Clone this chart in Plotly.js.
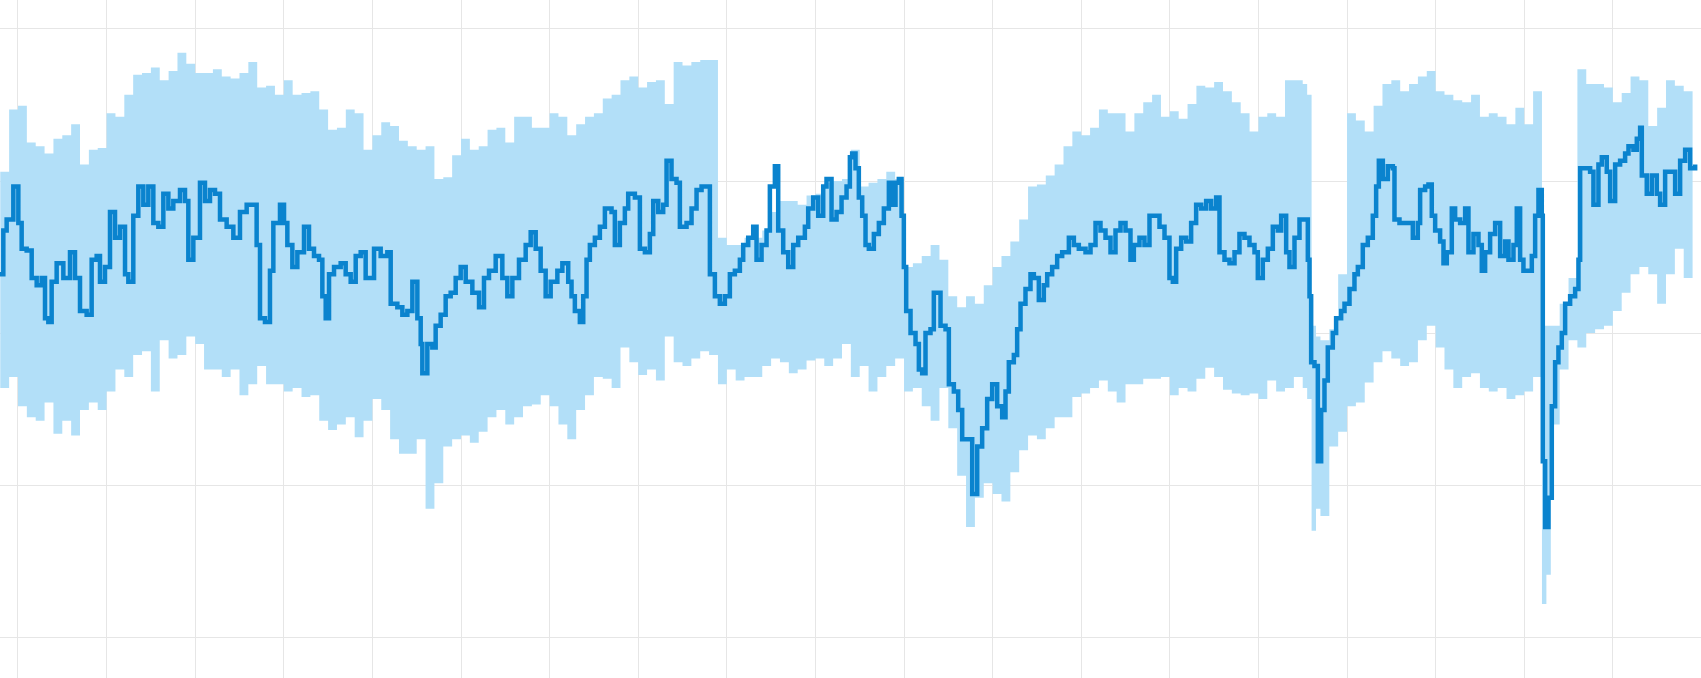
<!DOCTYPE html>
<html>
<head>
<meta charset="utf-8">
<script src="https://cdn.plot.ly/plotly-3.0.1.min.js"></script>
<style>
  html, body { margin: 0; padding: 0; background: #ffffff; }
  #chart { width: 1701px; height: 678px; }
</style>
</head>
<body>
<div id="chart"></div>
<script>
// Band sample positions (arbitrary time units; grid every 20 units)
const bandX = [
  -4,-2,0,2,4,6,8,10,12,14,16,18,20,22,24,26,28,30,32,34,36,38,40,42,44,46,48,50,52,54,56,58,
  60,62,64,66,68,70,72,74,76,78,80,82,84,86,88,90,92,94,96,98,100,102,104,106,108,110,112,114,116,118,120,122,
  124,126,128,130,132,134,136,138,140,142,144,146,148,150,152,154,156,158,160,162,164,166,168,170,172,174,176,178,180,182,184,186,
  188,190,192,194,196,198,200,202,204,206,208,210,212,214,216,218,220,222,224,226,228,230,232,234,236,238,240,242,244,246,248,250,
  252,254,256,258,260,262,264,266,268,270,272,274,276,278,280,282,284,286,288,290,291,292,293,294,296,298,300,302,304,306,308,310,312,314,
  316,318,320,322,324,326,328,330,332,334,336,338,340,342,344,345,346,348,350,352,354,356,358,360,362,364,366,368,370,372,374,376,378
];

// Upper bound of the band
const upper = [
  1290,1460,1470,1370,1360,1340,1380,1390,1420,1310,1350,1355,1450,1440,1500,1555,1560,1575,1540,1565,1615,1585,1560,1560,1570,1550,1545,1560,1590,1520,1525,1500,
  1540,1500,1505,1510,1460,1405,1410,1460,1450,1350,1390,1425,1415,1375,1360,1350,1360,1270,1275,1335,1380,1350,1360,1405,1410,1370,1440,1440,1410,1410,1450,1440,
  1390,1420,1440,1450,1490,1500,1540,1550,1520,1535,1540,1475,1590,1580,1590,1595,1595,1110,1090,1090,1110,1110,1130,1180,1210,1210,1200,1225,1230,1260,1265,1270,
  1350,1250,1260,1270,1290,1270,1030,1040,1060,1090,1050,950,920,950,930,980,1030,1060,1100,1160,1250,1255,1280,1310,1360,1400,1390,1410,1460,1450,1450,1400,
  1450,1480,1500,1440,1455,1435,1475,1525,1520,1535,1510,1480,1450,1400,1440,1450,1440,1540,1540,1530,1500,870,840,830,860,1010,1450,1430,1400,1470,1530,1540,1510,1530,
  1550,1565,1510,1500,1485,1480,1500,1440,1450,1440,1420,1465,1420,1510,870,870,870,930,1000,1570,1530,1530,1520,1480,1505,1550,1540,1415,1465,1540,1525,1510,1450
];

// Lower bound of the band
const lower = [
  700,730,650,620,610,660,575,610,570,640,660,640,690,750,730,790,800,690,830,780,790,840,820,750,750,730,750,680,710,760,710,710,
  690,700,675,680,610,585,600,620,565,610,670,640,560,520,520,560,370,440,540,560,570,550,580,620,640,600,620,650,655,680,650,600,
  560,640,680,730,725,700,810,770,735,750,720,840,770,760,780,800,790,710,750,720,730,730,760,780,770,740,750,775,780,760,780,820,
  730,760,690,730,760,780,690,700,650,610,700,590,460,320,400,440,410,390,470,530,570,560,590,620,620,675,685,700,720,690,660,710,
  710,725,725,730,680,700,690,725,755,730,695,685,680,685,670,720,690,700,730,700,670,310,370,350,540,580,650,660,715,770,800,780,760,770,
  830,870,810,750,700,730,740,700,690,700,670,680,690,730,110,190,600,750,830,810,850,860,870,910,960,1010,1030,1010,930,1010,1080,1000,1050
];

// Central line: positions where its value changes, and the values
const lineX = [
  -4.06,-3.31,-2.56,-1.05,0.08,0.83,1.96,3.09,4.22,5.35,6.10,6.85,7.60,8.73,10.24,11.74,12.87,14.00,15.50,16.63,17.76,18.51,19.64,20.77,21.90,23.03,24.16,24.91,26.03,27.16,28.29,29.42,30.55,31.68,32.81,33.94,35.06,36.57,37.70,38.45,39.58,41.08,42.21,43.34,44.47,45.60,47.10,48.61,50.11,51.62,53.87,54.63,55.75,56.88,57.64,59.14,
  60.05,60.80,61.93,63.06,64.56,65.69,66.82,67.95,68.70,69.46,70.21,71.34,72.84,73.97,75.10,76.23,77.36,78.48,80.37,81.87,83.37,84.13,85.63,86.76,87.89,89.02,90.15,90.90,91.27,92.40,93.53,94.28,95.41,96.54,97.67,98.80,99.93,101.06,102.56,104.07,105.19,106.32,107.83,109.33,110.46,111.59,113.09,114.60,115.73,116.86,117.98,119.11,120.24,121.75,122.88,
  124.20,124.95,125.70,126.83,127.59,128.34,129.09,130.22,131.35,132.48,133.98,134.73,135.86,136.99,137.74,139.25,140.38,141.51,142.63,143.39,144.52,145.64,146.40,147.52,148.65,149.41,150.91,152.04,153.17,154.30,156.18,157.31,158.43,159.56,160.69,161.82,162.95,163.70,164.83,165.96,166.71,167.84,168.97,169.72,170.85,171.60,172.73,173.86,174.99,176.12,177.62,178.37,179.50,180.63,181.76,182.51,183.64,184.77,185.90,187.03,187.78,
  188.30,189.05,189.80,190.56,191.31,192.06,193.19,194.32,195.45,196.58,197.33,198.08,198.83,199.44,199.96,200.49,201.47,202.60,203.35,204.10,204.85,205.98,206.73,208.24,209.37,210.12,211.25,212.23,213.13,215.39,216.52,217.64,218.77,219.90,221.03,222.16,222.91,223.66,224.79,225.54,226.30,227.42,228.55,229.31,230.43,231.56,232.32,233.44,234.57,235.70,237.21,238.34,239.46,240.97,242.10,243.23,244.35,245.48,246.61,247.74,248.87,250.00,251.12,251.88,
  252.40,253.15,254.28,255.41,257.67,258.80,259.92,260.68,261.43,262.56,263.69,264.81,265.94,267.07,268.20,269.33,270.46,271.21,272.34,273.47,274.60,275.72,276.85,277.98,279.11,279.86,280.99,282.12,283.25,284.38,285.13,286.26,287.01,288.14,289.27,291.15,291.53,291.90,292.65,293.41,294.16,294.91,295.66,296.79,297.54,298.67,299.43,300.56,301.68,302.44,303.56,304.69,305.82,306.57,307.18,308.08,309.21,310.34,310.71,311.84,313.34,314.85,315.98,
  316.50,317.63,318.38,319.13,319.89,321.01,321.77,322.52,323.65,324.40,325.53,326.66,327.41,328.54,329.67,330.42,331.17,332.30,333.43,334.56,335.69,336.44,337.57,338.32,339.07,339.82,341.71,342.46,343.21,343.96,344.19,344.72,345.47,346.22,346.97,347.72,348.48,349.23,350.36,351.49,352.24,352.62,354.87,355.62,356.75,357.51,358.63,359.39,360.52,361.64,362.77,363.53,364.65,365.41,366.16,366.54,367.66,368.79,369.92,370.67,371.80,374.06,375.19,376.32,377.45,378.58
];
const lineY = [
  1010,1130,1160,1250,1150,1080,1075,1000,980,1000,890,880,990,1040,1000,1070,1000,910,900,1050,1060,990,1030,1180,1110,1140,1010,990,1170,1250,1200,1250,1150,1140,1230,1190,1210,1240,1210,1050,1110,1260,1210,1240,1230,1160,1140,1110,1180,1200,1090,890,880,1020,1150,1200,
  1150,1090,1030,1070,1140,1080,1060,1050,950,890,1010,1030,1040,1010,990,1060,1070,1000,1080,1060,1070,930,920,900,910,990,890,820,740,820,810,870,900,950,960,1000,1030,990,960,920,1000,1020,1060,1000,950,1000,1050,1090,1125,1080,1020,950,990,1020,1040,
  990,950,910,880,950,1050,1090,1110,1140,1190,1180,1090,1150,1190,1230,1220,1080,1070,1120,1210,1180,1200,1320,1270,1260,1140,1150,1190,1240,1250,1010,950,930,950,1010,1020,1050,1090,1110,1140,1050,1090,1130,1250,1305,1130,1070,1030,1090,1110,1140,1190,1220,1170,1250,1270,1160,1180,1220,1250,1330,
  1340,1300,1220,1170,1090,1080,1120,1150,1190,1260,1200,1260,1270,1170,1030,910,850,820,750,740,850,860,960,870,860,710,690,640,560,410,540,590,670,710,650,620,690,770,790,860,930,970,1010,1000,940,980,1010,1030,1060,1070,1110,1090,1080,1070,1090,1150,1130,1110,1070,1130,1150,1130,1050,1090,
  1090,1110,1090,1170,1140,1110,1000,990,1080,1110,1100,1150,1200,1190,1210,1190,1220,1070,1050,1040,1070,1120,1110,1090,1070,1000,1050,1080,1140,1130,1170,1070,1030,1110,1160,1050,950,770,760,500,640,720,810,850,890,910,930,970,1010,1030,1090,1110,1170,1250,1320,1270,1305,1300,1160,1150,1150,1110,1150,
  1240,1250,1255,1170,1130,1100,1040,1070,1190,1160,1150,1190,1070,1120,1090,1020,1070,1120,1150,1060,1100,1050,1090,1190,1050,1020,1060,1170,1240,1170,500,320,400,650,770,810,850,930,950,970,1050,1300,1290,1200,1310,1330,1290,1210,1310,1320,1340,1360,1350,1380,1410,1280,1230,1280,1230,1200,1290,1230,1320,1350,1300,1310
];

const traces = [
  { x: bandX, y: lower, type: 'scatter', mode: 'lines',
    line: { width: 0, color: 'rgba(0,0,0,0)', shape: 'hv' },
    hoverinfo: 'skip', showlegend: false },
  { x: bandX, y: upper, type: 'scatter', mode: 'lines', fill: 'tonexty',
    fillcolor: 'rgb(178,223,248)',
    line: { width: 0, color: 'rgba(0,0,0,0)', shape: 'hv' },
    hoverinfo: 'skip', showlegend: false },
  { x: lineX, y: lineY, type: 'scatter', mode: 'lines',
    line: { width: 4.5, color: '#0a83ce', shape: 'hv' },
    showlegend: false }
];

const axisStyle = {
  showgrid: true, gridcolor: '#e6e6e6', gridwidth: 1,
  zeroline: false, showline: false, showticklabels: false, ticks: ''
};

const layout = {
  width: 1701, height: 678,
  margin: { l: 0, r: 0, t: 0, b: 0, pad: 0 },
  paper_bgcolor: '#ffffff', plot_bgcolor: '#ffffff',
  showlegend: false,
  xaxis: Object.assign({}, axisStyle, { range: [-4.06, 379.9], tick0: 0, dtick: 20 }),
  yaxis: Object.assign({}, axisStyle, { range: [-92, 1759], tick0: 17.5, dtick: 415.6 })
};

Plotly.newPlot('chart', traces, layout, { staticPlot: true, displayModeBar: false });
</script>
</body>
</html>
